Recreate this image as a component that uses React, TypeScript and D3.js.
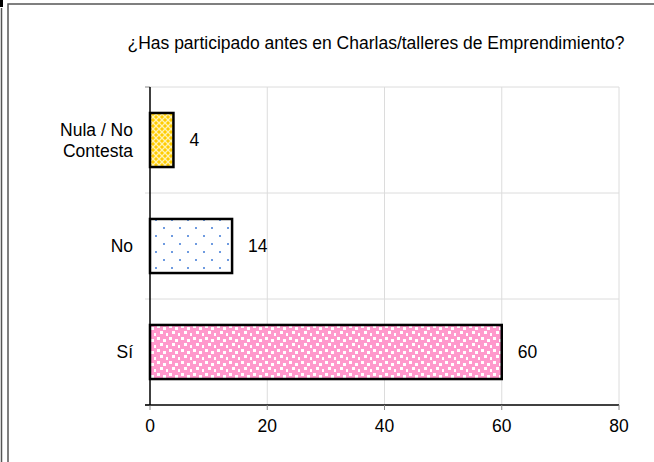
import React from "react";
import * as d3 from "d3";

const categories = ["Nula / No|Contesta", "No", "Sí"];
const values = [4, 14, 60];
const xTicks = [0, 20, 40, 60, 80];
const title = "¿Has participado antes en Charlas/talleres de Emprendimiento?";
const patterns = ["pYellow", "pBlue", "pPink"];

const W = 654;
const H = 462;
const FONT = "'Liberation Sans', Arial, sans-serif";
const FS = 17.5;

export default function App() {
  const x = d3.scaleLinear().domain([0, 80]).range([150, 619]);
  const y = d3.scaleBand().domain(categories).range([87, 405]).padding(0);
  const bw = y.bandwidth();
  const barH = bw * 0.51;

  return (
    <svg width={W} height={H} style={{ position: "absolute", left: 0, top: 0 }}>
      <defs>
        <pattern id="pYellow" width="6" height="6" patternUnits="userSpaceOnUse">
          <rect width="6" height="6" fill="#ffcc00" />
          <path d="M0 0 L6 6 M6 0 L0 6" stroke="#fff2b0" strokeWidth="1.3" />
        </pattern>
        <pattern id="pBlue" width="16" height="16" patternUnits="userSpaceOnUse">
          <rect width="16" height="16" fill="#ffffff" />
          <rect x="3" y="3" width="2" height="2" fill="#6f9be0" />
          <rect x="11" y="11" width="2" height="2" fill="#6f9be0" />
        </pattern>
        <pattern id="pPink" width="12" height="12" patternUnits="userSpaceOnUse">
          <rect width="12" height="12" fill="#ff99cc" />
          <rect x="1" y="1" width="3" height="3" fill="#ffffff" />
          <rect x="7" y="3" width="3" height="3" fill="#ffffff" />
          <rect x="4" y="7" width="3" height="3" fill="#ffffff" />
          <rect x="10" y="9" width="2" height="3" fill="#ffffff" />
        </pattern>
      </defs>
      <rect width={W} height={H} fill="#fff" />
      {/* frame */}
      <path d={`M8 ${H} L8 4 L${W} 4`} fill="none" stroke="#555" strokeWidth={1.5} />
      <path d={`M1.5 8 L1.5 ${H}`} fill="none" stroke="#555" strokeWidth={1.5} />
      <rect x={0} y={0} width={3} height={7} fill="#000" />

      <text x={376} y={49} textAnchor="middle" fontFamily={FONT} fontSize={FS} fill="#000">
        {title}
      </text>

      {/* gridlines */}
      {xTicks.slice(1).map((t) => (
        <line key={"gx" + t} x1={x(t)} x2={x(t)} y1={87} y2={405} stroke="#dcdcdc" strokeWidth={1} />
      ))}
      <line x1={150} x2={619} y1={87} y2={87} stroke="#dcdcdc" />
      {categories.slice(1).map((c) => (
        <line key={"gy" + c} x1={145} x2={619} y1={y(c)!} y2={y(c)!} stroke="#dcdcdc" />
      ))}
      {[87, 405].map((v) => (
        <line key={"yt" + v} x1={145} x2={150} y1={v} y2={v} stroke="#888" />
      ))}

      {/* bars */}
      {categories.map((c, i) => {
        const cy = y(c)! + bw / 2;
        return (
          <g key={c}>
            <rect
              x={x(0)}
              y={cy - barH / 2}
              width={x(values[i]) - x(0)}
              height={barH}
              fill={`url(#${patterns[i]})`}
              stroke="#000"
              strokeWidth={2.5}
            />
            <text x={x(values[i]) + 16} y={cy + 6} fontFamily={FONT} fontSize={FS} fill="#000">
              {values[i]}
            </text>
          </g>
        );
      })}

      {/* axes */}
      <line x1={150} x2={150} y1={87} y2={406} stroke="#000" strokeWidth={1.5} />
      <line x1={145} x2={619} y1={405} y2={405} stroke="#000" strokeWidth={1.5} />
      {xTicks.map((t) => (
        <g key={"xt" + t}>
          <line x1={x(t)} x2={x(t)} y1={405} y2={410} stroke="#888" />
          <text x={x(t)} y={432} textAnchor="middle" fontFamily={FONT} fontSize={FS} fill="#000">
            {t}
          </text>
        </g>
      ))}
      {categories.map((c) => {
        const lines = c.split("|");
        const cy = y(c)! + bw / 2;
        const lh = 21;
        return (
          <text key={"yl" + c} textAnchor="end" fontFamily={FONT} fontSize={FS} fill="#000">
            {lines.map((l, k) => (
              <tspan key={k} x={133} y={cy + 6 + (k - (lines.length - 1) / 2) * lh}>
                {l}
              </tspan>
            ))}
          </text>
        );
      })}
    </svg>
  );
}
